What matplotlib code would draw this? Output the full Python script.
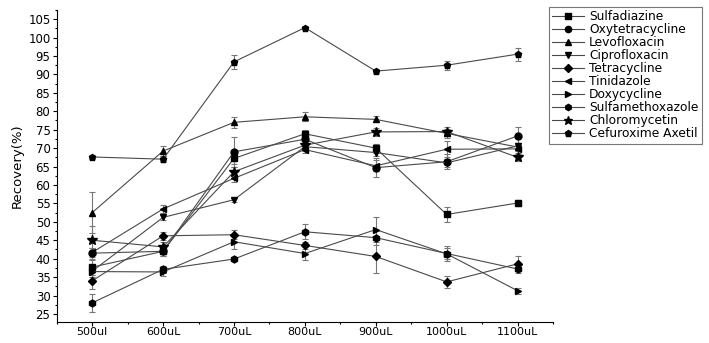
import numpy as np
import matplotlib
matplotlib.use("Agg")
import matplotlib.pyplot as plt
from matplotlib.ticker import MultipleLocator

plt.rcParams['font.family'] = ['DejaVu Sans']

volumes = ['500ul', '600uL', '700uL', '800uL', '900uL', '1000uL', '1100uL']

names = ['Sulfadiazine', 'Oxytetracycline', 'Levofloxacin', 'Ciprofloxacin',
         'Tetracycline', 'Tinidazole', 'Doxycycline', 'Sulfamethoxazole',
         'Chloromycetin', 'Cefuroxime Axetil']
markers = ['s', 'o', '^', 'v', 'D', '<', '>', 'h', '*', 'p']

sulfadiazine = [37.7, 42.0, 67.2, 73.9, 70.0, 52.0, 55.1]
oxytetracycline = [41.5, 42.0, 69.0, 72.4, 64.7, 66.3, 73.3]
levofloxacin = [52.5, 69.2, 77.0, 78.5, 77.8, 74.0, 70.3]
ciprofloxacin = [36.6, 51.2, 56.0, 70.4, 68.8, 66.0, 70.6]
tetracycline = [34.0, 46.2, 46.5, 43.6, 40.6, 33.7, 38.6]
tinidazole = [41.7, 53.5, 61.8, 69.6, 65.2, 69.7, 69.8]
doxycycline = [36.5, 36.4, 44.6, 41.4, 47.9, 41.3, 31.3]
sulfamethoxazole = [28.0, 37.1, 39.9, 47.3, 45.7, 41.4, 37.2]
chloromycetin = [45.0, 43.2, 63.6, 70.8, 74.4, 74.5, 67.5]
cefuroxime = [67.6, 67.0, 93.4, 102.7, 90.9, 92.5, 95.5]

sulfadiazine_err = [2.0, 1.2, 1.5, 1.0, 1.2, 2.0, 0.8]
oxytetracycline_err = [1.5, 1.2, 4.0, 1.0, 2.5, 2.0, 2.5]
levofloxacin_err = [5.5, 1.3, 1.5, 1.2, 0.8, 1.2, 1.0]
ciprofloxacin_err = [1.0, 0.8, 0.6, 1.0, 1.0, 1.0, 0.8]
tetracycline_err = [2.3, 1.0, 1.2, 1.0, 4.5, 1.6, 2.0]
tinidazole_err = [1.2, 1.0, 1.0, 1.0, 1.5, 2.2, 1.0]
doxycycline_err = [1.5, 1.0, 2.0, 1.8, 3.3, 1.5, 0.8]
sulfamethoxazole_err = [2.5, 1.0, 0.6, 2.0, 2.0, 2.0, 1.0]
chloromycetin_err = [3.8, 1.2, 1.2, 1.0, 1.0, 1.2, 1.0]
cefuroxime_err = [0.5, 0.8, 1.8, 0.5, 0.5, 1.2, 1.8]

series = [sulfadiazine, oxytetracycline, levofloxacin, ciprofloxacin, tetracycline,
          tinidazole, doxycycline, sulfamethoxazole, chloromycetin, cefuroxime]
errors = [sulfadiazine_err, oxytetracycline_err, levofloxacin_err, ciprofloxacin_err,
          tetracycline_err, tinidazole_err, doxycycline_err, sulfamethoxazole_err,
          chloromycetin_err, cefuroxime_err]

fig = plt.figure(figsize=(7.09, 3.43), dpi=100)
ax = fig.add_axes([0.080, 0.06, 0.700, 0.911])

x = np.arange(len(volumes))
for name, m, y, e in zip(names, markers, series, errors):
    ms = {'*': 7, 'D': 4.3}.get(m, 5)
    ax.errorbar(x, y, yerr=e, color='#4a4a4a', lw=0.8, marker=m, ms=ms,
                mfc='black', mec='black', ecolor='#777777', elinewidth=0.8,
                capsize=2.5, capthick=0.8, label=name)

ax.set_xlim(-0.5, 6.5)
ax.set_ylim(22.7, 107.5)
ax.set_xticks(x)
ax.set_xticklabels(volumes)
ax.xaxis.set_minor_locator(MultipleLocator(0.5))
ax.set_yticks(np.arange(25, 106, 5))
ax.yaxis.set_minor_locator(MultipleLocator(2.5))
ax.tick_params(axis='both', which='major', direction='out', length=3, width=0.8,
               labelsize=8.5, pad=1.5)
ax.tick_params(axis='x', which='major', pad=0.5, labelsize=8)
ax.tick_params(axis='both', which='minor', direction='out', length=1.5, width=0.8)
ax.set_ylabel('Recovery(%)', fontsize=9.5, labelpad=3)
ax.spines['top'].set_visible(False)
ax.spines['right'].set_visible(False)

handles, labels = ax.get_legend_handles_labels()
handles = [h[0] for h in handles]
leg = fig.legend(handles, labels, loc='upper right', bbox_to_anchor=(0.999, 0.998),
                 fontsize=8.8, labelspacing=0.0, handlelength=2.6, handletextpad=0.4,
                 borderpad=0.3, frameon=True, fancybox=False, markerscale=0.9)
leg.get_frame().set_edgecolor('#555555')
leg.get_frame().set_linewidth(0.8)

fig.savefig('out.png', dpi=100)
